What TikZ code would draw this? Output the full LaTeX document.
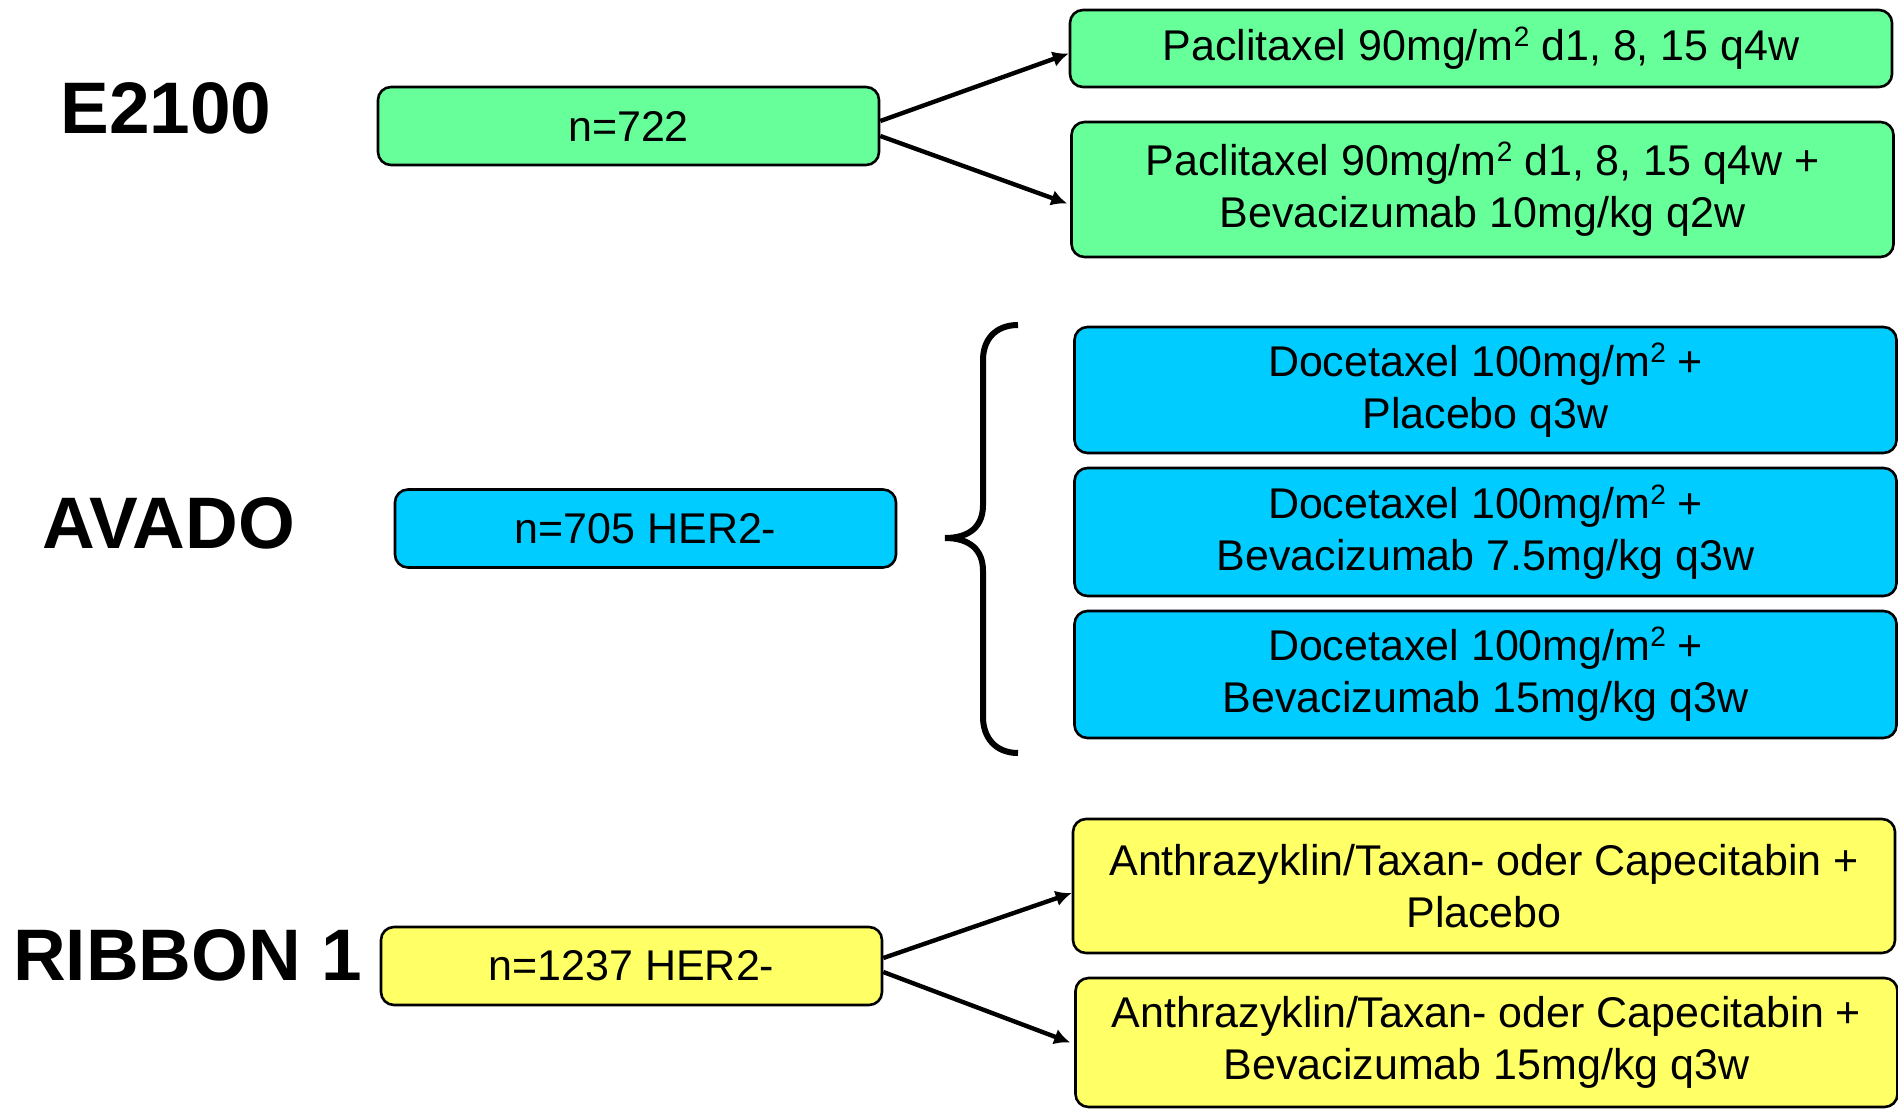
\documentclass[tikz,border=0pt]{standalone}
\usepackage{fontspec}
\setmainfont{Liberation Sans}
\usetikzlibrary{positioning, calc, arrows.meta}

\definecolor{armgreen}{HTML}{66FF99}
\definecolor{armblue}{HTML}{00CCFF}
\definecolor{armyellow}{HTML}{FFFF66}

\newcommand{\armfont}{\fontsize{21.5}{26}\selectfont}
\newcommand{\trialfont}{\fontsize{36.5}{40}\selectfont\bfseries}
\newcommand{\sqm}{m\raisebox{0.62ex}{\fontsize{14}{14}\selectfont 2}}

\tikzset{
  arm/.style={draw, line width=1.3pt, rounded corners=6.5pt, align=center, font=\armfont, inner sep=0pt},
  nbox/.style={arm, minimum width=250.5pt, minimum height=39pt},
  wide/.style={arm, minimum width=411pt},
  trial/.style={font=\trialfont, inner sep=0pt},
  link/.style={-{Latex[length=8pt,width=8pt]}, line width=2.2pt},
}

\begin{document}
\begin{tikzpicture}[x=0.5pt, y=-0.5pt]
  \useasboundingbox (0,0) rectangle (1898,1108);

  % E2100
  \node[trial] (e2100) at (166,108) {E2100};
  \node[nbox, fill=armgreen] (n722) at (628.5,126) {n=722};
  \node[wide, fill=armgreen, minimum height=38.5pt] (pac1) at (1481,48.5)
    {Paclitaxel 90mg/\sqm{} d1, 8, 15 q4w};
  \node[wide, fill=armgreen, minimum height=67.5pt] (pac2) at (1482.5,189.5)
    {Paclitaxel 90mg/\sqm{} d1, 8, 15 q4w +\\Bevacizumab 10mg/kg q2w};
  \draw[link] ($(n722.east)+(0,-5)$) -- ($(pac1.west)+(0,5)$);
  \draw[link] ($(n722.east)+(0,10)$) -- ($(pac2.west)+(-3,14)$);

  % AVADO
  \node[trial] (avado) at (168.5,523.5) {AVADO};
  \node[nbox, fill=armblue] (n705) at (645.5,528.5) {n=705 HER2-};
  \node[wide, fill=armblue, minimum height=63pt] (doc1) at (1485.5,390)
    {Docetaxel 100mg/\sqm{} +\\Placebo q3w};
  \node[wide, fill=armblue, minimum height=64pt] (doc2) at (1485.5,532)
    {Docetaxel 100mg/\sqm{} +\\Bevacizumab 7.5mg/kg q3w};
  \node[wide, fill=armblue, minimum height=63.5pt] (doc3) at (1485.5,674.5)
    {Docetaxel 100mg/\sqm{} +\\Bevacizumab 15mg/kg q3w};
  \draw[line width=3pt] (1018,325) .. controls (995,325) and (983,340) .. (983,360)
    -- (983,505) .. controls (983,526) and (970,538) .. (945,538)
    .. controls (970,538) and (983,550) .. (983,571)
    -- (983,717) .. controls (983,737) and (995,753) .. (1018,753);

  % RIBBON 1
  \node[trial] (ribbon) at (187.5,955.5) {RIBBON 1};
  \node[nbox, fill=armyellow] (n1237) at (631.5,966) {n=1237 HER2-};
  \node[wide, fill=armyellow, minimum height=67pt] (rib1) at (1484,886)
    {Anthrazyklin/Taxan- oder Capecitabin +\\Placebo};
  \node[wide, fill=armyellow, minimum height=64.5pt] (rib2) at (1486.5,1042.5)
    {Anthrazyklin/Taxan- oder Capecitabin +\\Bevacizumab 15mg/kg q3w};
  \draw[link] ($(n1237.east)+(0,-8)$) -- ($(rib1.west)+(0,7)$);
  \draw[link] ($(n1237.east)+(0,6)$) -- ($(rib2.west)+(-4,0)$);
\end{tikzpicture}
\end{document}
